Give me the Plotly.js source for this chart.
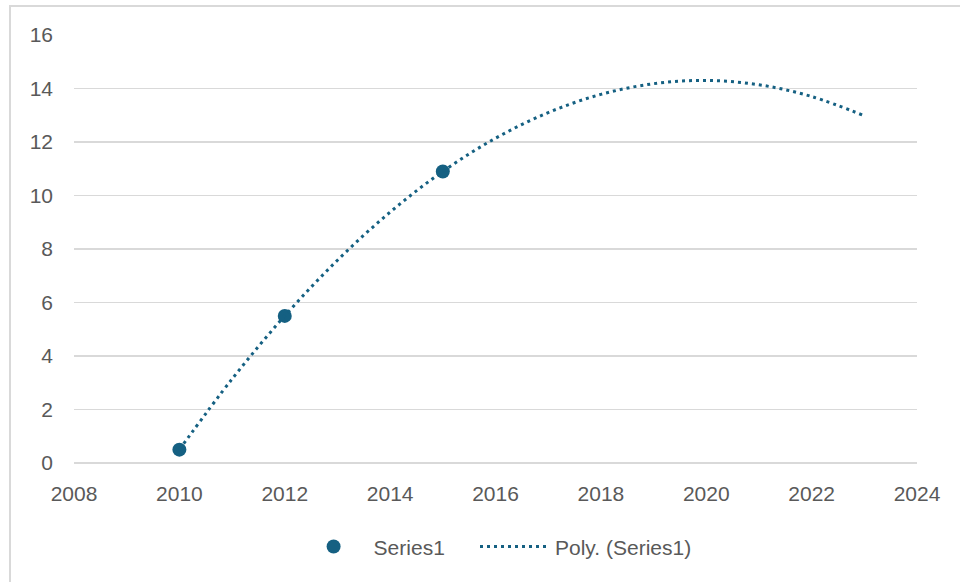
<!DOCTYPE html>
<html>
<head>
<meta charset="utf-8">
<script src="https://cdn.plot.ly/plotly-3.0.1.min.js"></script>
<style>
  html, body { margin: 0; padding: 0; background: #ffffff; overflow: hidden; }
  #chart { width: 960px; height: 582px; }
  #frame {
    position: absolute; left: 9px; top: 5px; width: 980px; height: 620px;
    border: 2px solid #d9d9d9; pointer-events: none; box-sizing: border-box;
  }
</style>
</head>
<body>
<div id="chart"></div>
<div id="frame"></div>
<script>
// Observed points
const years = [2010, 2012, 2015];
const values = [0.5, 5.5, 10.9];

// Second-order polynomial trendline, sampled yearly
const trendYears = [2010, 2011, 2012, 2013, 2014, 2015, 2016, 2017, 2018, 2019, 2020, 2021, 2022, 2023];
const trendValues = [0.5, 3.14, 5.5, 7.58, 9.38, 10.9, 12.14, 13.1, 13.78, 14.18, 14.3, 14.14, 13.7, 12.98];

const xTicks = [2008, 2010, 2012, 2014, 2016, 2018, 2020, 2022, 2024];
const yTicks = [0, 2, 4, 6, 8, 10, 12, 14, 16];

const teal = '#156082';
const grid = '#d9d9d9';
const labelColor = '#595959';

const traces = [
  {
    x: years, y: values,
    type: 'scatter', mode: 'markers', name: 'Series1', legend: 'legend',
    marker: { color: teal, size: 14, line: { width: 0 } }
  },
  {
    x: trendYears, y: trendValues,
    type: 'scatter', mode: 'lines', name: 'Poly. (Series1)', legend: 'legend2',
    line: { color: teal, width: 3, dash: '3px,4px', shape: 'spline', smoothing: 1 }
  }
];

// Shared legend styling; each entry sits in its own legend box along the bottom
const legendStyle = {
  orientation: 'h', yanchor: 'middle', y: -0.196, xanchor: 'left',
  font: { size: 21, color: labelColor }, itemwidth: 70, bgcolor: 'rgba(0,0,0,0)'
};

const layout = {
  width: 960, height: 582,
  margin: { l: 74, r: 43, t: 35, b: 119 },
  paper_bgcolor: '#ffffff', plot_bgcolor: '#ffffff',
  font: { family: 'Liberation Sans, Arial, sans-serif', size: 21, color: labelColor },
  showlegend: true,
  legend: Object.assign({}, legendStyle, { x: 0.2605 }),
  legend2: Object.assign({}, legendStyle, { x: 0.4757 }),
  xaxis: {
    range: [2008, 2024], tickvals: xTicks, ticktext: xTicks.map(String),
    showgrid: false, zeroline: false, showline: false, ticks: '',
    ticklabelstandoff: 16, tickfont: { size: 21, color: labelColor }
  },
  yaxis: {
    range: [0, 16], tickvals: yTicks, ticktext: yTicks.map(String),
    showgrid: true, gridcolor: grid, gridwidth: 1.5,
    zeroline: true, zerolinecolor: grid, zerolinewidth: 1.5,
    showline: false, ticks: '',
    ticklabelstandoff: 20, tickfont: { size: 21, color: labelColor }
  }
};

Plotly.newPlot('chart', traces, layout, { displayModeBar: false, staticPlot: true });
</script>
</body>
</html>
